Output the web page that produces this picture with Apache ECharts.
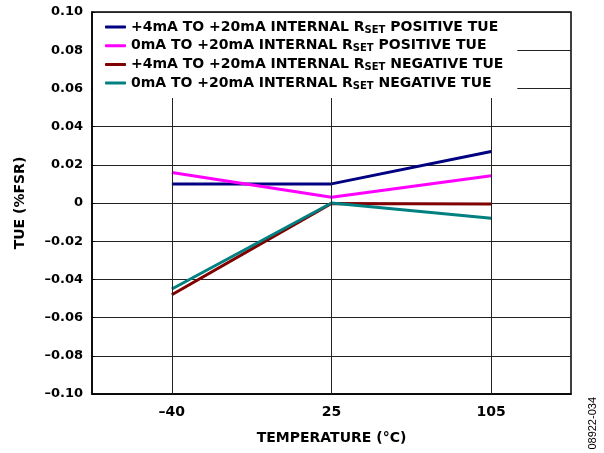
<!DOCTYPE html>
<html>
<head>
<meta charset="utf-8">
<script src="https://cdn.jsdelivr.net/npm/echarts@6/dist/echarts.min.js"></script>
<style>
html,body{margin:0;padding:0;background:#fff;}
#chart{width:604px;height:453px;}
</style>
</head>
<body>
<div id="chart"></div>
<script>
var categories = ['-40', '25', '105'];
var posTue4to20 = [0.010, 0.010, 0.027];
var posTue0to20 = [0.016, 0.003, 0.0143];
var negTue4to20 = [-0.048, -0.0002, -0.0005];
var negTue0to20 = [-0.045, 0.0, -0.008];
var seriesNames = [
  '+4mA TO +20mA INTERNAL R_SET_ POSITIVE TUE',
  '0mA TO +20mA INTERNAL R_SET_ POSITIVE TUE',
  '+4mA TO +20mA INTERNAL R_SET_ NEGATIVE TUE',
  '0mA TO +20mA INTERNAL R_SET_ NEGATIVE TUE'
];
var colors = ['#000080', '#FF00FF', '#800000', '#008080'];
var seriesData = [posTue4to20, posTue0to20, negTue4to20, negTue0to20];

var FONT = '"DejaVu Sans", "Liberation Sans", Arial, sans-serif';
var chart = echarts.init(document.getElementById('chart'), null, {renderer: 'canvas'});

function dashMinus(s) { return String(s).replace('-', '\u2013'); }

var series = seriesNames.map(function (n, i) {
  return {
    name: n,
    type: 'line',
    data: seriesData[i],
    symbol: 'none',
    lineStyle: {color: colors[i], width: 3},
    itemStyle: {color: colors[i]},
    z: 3
  };
});
// vertical grid lines at category centres
series.push({
  type: 'line',
  data: [],
  silent: true,
  markLine: {
    silent: true,
    symbol: 'none',
    label: {show: false},
    lineStyle: {color: '#222', width: 1, type: 'solid'},
    data: categories.map(function (c) { return {xAxis: c}; })
  },
  z: 1
});

var option = {
  animation: false,
  backgroundColor: '#fff',
  textStyle: {fontFamily: FONT},
  grid: {left: 92, top: 12, right: 33, bottom: 59, containLabel: false,
         show: true, borderColor: '#000', borderWidth: 1.5, backgroundColor: 'transparent'},
  legend: {
    orient: 'vertical',
    left: 93,
    top: 13,
    data: seriesNames,
    backgroundColor: '#fff',
    padding: [6, 14, 7, 12],
    itemGap: 2.7,
    itemWidth: 21,
    itemHeight: 3,
    icon: 'roundRect',
    z: 10,
    formatter: function (name) {
      var p = name.split('_');
      return '{b|' + p[0] + '}{s|' + p[1] + '}{b|' + p[2] + '}';
    },
    textStyle: {
      fontFamily: FONT,
      rich: {
        b: {fontFamily: FONT, fontWeight: 'bold', fontSize: 14, color: '#000', lineHeight: 16},
        s: {fontFamily: FONT, fontWeight: 'bold', fontSize: 10, color: '#000', lineHeight: 10, padding: [6, 0, 0, 0]}
      }
    }
  },
  xAxis: {
    type: 'category',
    data: categories,
    boundaryGap: true,
    name: 'TEMPERATURE (°C)',
    nameLocation: 'middle',
    nameGap: 37,
    nameTextStyle: {fontFamily: FONT, fontWeight: 'bold', fontSize: 14, color: '#000'},
    axisLine: {show: true, onZero: false, lineStyle: {color: '#000', width: 1.5}},
    axisTick: {show: false},
    splitLine: {show: false},
    axisLabel: {
      fontFamily: FONT, fontWeight: 'bold', fontSize: 14, color: '#000', margin: 11,
      formatter: function (v) { return dashMinus(v); }
    }
  },
  yAxis: {
    type: 'value',
    min: -0.1,
    max: 0.1,
    interval: 0.02,
    name: 'TUE (%FSR)',
    nameLocation: 'middle',
    nameGap: 65,
    nameRotate: 90,
    nameTextStyle: {fontFamily: FONT, fontWeight: 'bold', fontSize: 14, color: '#000'},
    axisLine: {show: true, lineStyle: {color: '#000', width: 1.5}},
    axisTick: {show: true, inside: true, length: 3, lineStyle: {color: '#000'}},
    splitLine: {show: true, lineStyle: {color: '#222', width: 1}},
    axisLabel: {
      fontFamily: FONT, fontWeight: 'bold', fontSize: 13, color: '#000', margin: 9,
      formatter: function (v) {
        var r = Math.round(v * 100) / 100;
        if (Math.abs(r) < 1e-9) return '0';
        return dashMinus(r.toFixed(2));
      }
    }
  },
  graphic: [{
    type: 'text',
    left: 587,
    top: 397,
    rotation: Math.PI / 2,
    style: {text: '08922-034', fontFamily: '"Liberation Sans", Arial, sans-serif', fontSize: 11, fill: '#000'}
  }],
  series: series
};
chart.setOption(option);
</script>
</body>
</html>
